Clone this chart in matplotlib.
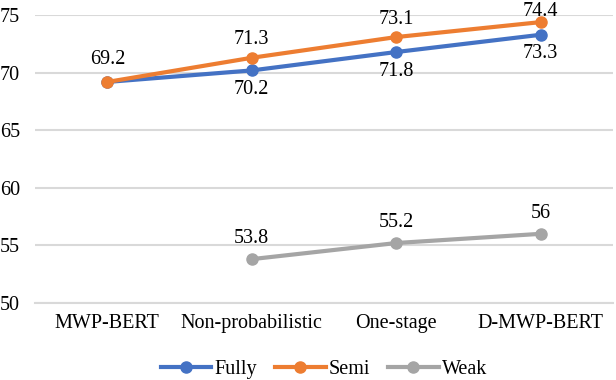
import numpy as np
import matplotlib.pyplot as plt

plt.rcParams['font.family'] = ['Liberation Serif', 'DejaVu Serif']
plt.rcParams['font.size'] = 14.5

# data
methods = ['MWP-BERT', 'Non-probabilistic', 'One-stage', 'D-MWP-BERT']
fully = [69.2, 70.2, 71.8, 73.3]
semi = [69.2, 71.3, 73.1, 74.4]
weak = [np.nan, 53.8, 55.2, 56]

fig, ax = plt.subplots(figsize=(6.16, 3.8), dpi=100)
fig.subplots_adjust(left=0.057, right=0.995, top=0.96, bottom=0.203)

x = np.arange(len(methods))
ax.plot(x, fully, color='#4472c4', lw=3, marker='o', ms=8, label='Fully', zorder=3)
ax.plot(x, semi, color='#ed7d31', lw=3, marker='o', ms=8, label='Semi', zorder=4)
ax.plot(x, weak, color='#a5a5a5', lw=3, marker='o', ms=8, label='Weak', zorder=3)

# value labels (top one pushed down to stay inside, like the original)
semi_off = [9, 6, 6, 1]
for i, v in enumerate(semi):
    ax.annotate(f'{v:g}', (i, v), xytext=(0, semi_off[i]), textcoords='offset points',
                ha='center', va='bottom')
for i, v in enumerate(fully):
    if i == 0:
        continue
    ax.annotate(f'{v:g}', (i, v), xytext=(0, -7), textcoords='offset points', ha='center', va='top')
for i, v in enumerate(weak):
    if np.isnan(v):
        continue
    ax.annotate(f'{v:g}', (i, v), xytext=(0, 8), textcoords='offset points', ha='center', va='bottom')

ax.set_xlim(-0.5, 3.5)
ax.set_ylim(50, 75)
ax.set_yticks(range(50, 76, 5))
ax.set_xticks(x)
ax.set_xticklabels(methods)
ax.yaxis.grid(True, color='#d9d9d9', lw=1.5)
ax.set_axisbelow(True)
for s in ax.spines.values():
    s.set_visible(False)
ax.spines['bottom'].set_visible(True)
ax.spines['bottom'].set_color('#d9d9d9')
ax.spines['bottom'].set_linewidth(1.5)
ax.tick_params(length=0, pad=8)
ax.tick_params(axis='y', pad=11)

ax.legend(loc='center', bbox_to_anchor=(0.5, -0.233), ncol=3, frameon=False,
          handlelength=2.5, columnspacing=0.9, handletextpad=0.15)

plt.savefig('out.png')
